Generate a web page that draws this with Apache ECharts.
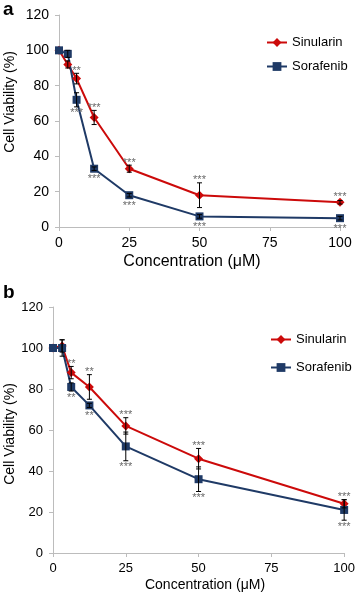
<!DOCTYPE html>
<html>
<head>
<meta charset="utf-8">
<script src="https://cdn.jsdelivr.net/npm/echarts@6/dist/echarts.min.js"></script>
<style>
html,body{margin:0;padding:0;background:#fff;}
#chart{width:358px;height:595px;}
</style>
</head>
<body>
<div id="chart"></div>
<script>
// ---- Data ----
const conc = [0, 3.125, 6.25, 12.5, 25, 50, 100];
const xTicks = [0, 25, 50, 75, 100];
const yTicks = [0, 20, 40, 60, 80, 100, 120];

// Panel a
const aSin = [100, 92, 84, 62, 33, 18, 14];
const aSinErr = [0, 2, 3, 4, 2, 7, 1];
const aSinSig = ['', '', '**', '***', '***', '***', '***'];
const aSor = [100, 98, 72, 33, 18, 6, 5];
const aSorErr = [0, 2, 4, 1, 1, 1, 1];
const aSorSig = ['', '', '***', '***', '***', '***', '***'];

// Panel b
const bSin = [100, 101, 88, 81, 62, 46, 24];
const bSinErr = [0, 3, 3, 6, 4, 5, 2];
const bSinSig = ['', '', '**', '**', '***', '***', '***'];
const bSor = [100, 100, 81, 72, 52, 36, 21];
const bSorErr = [0, 4, 2, 1, 7, 6, 5];
const bSorSig = ['', '', '**', '**', '***', '***', '***'];

const names = ['Sinularin', 'Sorafenib'];
const RED = '#cc0a0a';
const BLUE = '#1f3a66';
const FONT = 'Liberation Sans';

const chart = echarts.init(document.getElementById('chart'), null, {renderer: 'canvas'});

function lineSeries(name, vals, idx, color, symbol, size) {
  return {
    name: name, type: 'line', xAxisIndex: idx, yAxisIndex: idx,
    data: conc.map((x, i) => [x, vals[i]]),
    symbol: symbol, symbolSize: size, showSymbol: true,
    color: color,
    lineStyle: {color: color, width: 2},
    itemStyle: {color: color},
    z: 3, animation: false
  };
}

function errSeries(vals, errs, idx) {
  const d = [];
  conc.forEach((x, i) => { if (errs[i] > 0) d.push([x, vals[i] - errs[i], vals[i] + errs[i]]); });
  return {
    type: 'custom', xAxisIndex: idx, yAxisIndex: idx, silent: true, z: 4, animation: false,
    data: d,
    renderItem: function (params, api) {
      const x = api.value(0);
      const p1 = api.coord([x, api.value(2)]);
      const p2 = api.coord([x, api.value(1)]);
      const w = 2.5;
      const st = {stroke: '#000', lineWidth: 1};
      return {type: 'group', children: [
        {type: 'line', shape: {x1: p1[0], y1: p1[1], x2: p2[0], y2: p2[1]}, style: st},
        {type: 'line', shape: {x1: p1[0] - w, y1: p1[1], x2: p1[0] + w, y2: p1[1]}, style: st},
        {type: 'line', shape: {x1: p2[0] - w, y1: p2[1], x2: p2[0] + w, y2: p2[1]}, style: st}
      ]};
    }
  };
}

function sigSeries(vals, errs, sig, idx, above) {
  const d = [];
  conc.forEach((x, i) => { if (sig[i]) d.push([x, vals[i], errs[i], i]); });
  return {
    type: 'custom', xAxisIndex: idx, yAxisIndex: idx, silent: true, z: 5, animation: false,
    data: d,
    renderItem: function (params, api) {
      const x = api.value(0), v = api.value(1), e = api.value(2), i = api.value(3);
      const pc = api.coord([x, v]);
      let y;
      if (above) {
        const pt = api.coord([x, v + e]);
        y = Math.min(pt[1], pc[1] - 3) + 3;
      } else {
        const pb = api.coord([x, v - e]);
        y = Math.max(pb[1], pc[1] + 4) + 1;
      }
      return {type: 'text', x: pc[0], y: y, style: {
        text: sig[i], fill: '#6a6a6a', font: '11px "' + FONT + '"',
        align: 'center', verticalAlign: above ? 'bottom' : 'top'
      }};
    }
  };
}

function xAx(idx, fs, margin) {
  return {
    type: 'value', gridIndex: idx, min: xTicks[0], max: xTicks[xTicks.length - 1],
    interval: xTicks[1] - xTicks[0],
    axisLine: {show: true, lineStyle: {color: '#bcbcbc', width: 1}},
    axisTick: {show: true, length: 4, lineStyle: {color: '#bcbcbc'}},
    splitLine: {show: false},
    axisLabel: {color: '#000', fontSize: fs, fontFamily: FONT, margin: margin}
  };
}
function yAx(idx, fs, margin) {
  return {
    type: 'value', gridIndex: idx, min: yTicks[0], max: yTicks[yTicks.length - 1],
    interval: yTicks[1] - yTicks[0],
    axisLine: {show: true, lineStyle: {color: '#bcbcbc', width: 1}},
    axisTick: {show: true, length: 4, lineStyle: {color: '#bcbcbc'}},
    splitLine: {show: false},
    axisLabel: {color: '#000', fontSize: fs, fontFamily: FONT, margin: margin}
  };
}

const option = {
  backgroundColor: '#fff',
  animation: false,
  textStyle: {fontFamily: FONT},
  grid: [
    {left: 59, top: 15, width: 281, height: 212},
    {left: 53, top: 307, width: 293, height: 246}
  ],
  xAxis: [xAx(0, 14, 9), xAx(1, 13, 9)],
  yAxis: [yAx(0, 14, 10), yAx(1, 13, 10)],
  legend: [
    {data: names, orient: 'vertical', left: 261, top: 31, itemWidth: 20, itemHeight: 11, itemGap: 11,
     textStyle: {fontSize: 13, color: '#000', fontFamily: FONT}},
    {data: names, orient: 'vertical', left: 265, top: 328, itemWidth: 20, itemHeight: 11, itemGap: 15,
     textStyle: {fontSize: 13, color: '#000', fontFamily: FONT}}
  ],
  graphic: [
    {type: 'text', left: 3, top: 0, style: {text: 'a', font: 'bold 19px "' + FONT + '"', fill: '#000'}},
    {type: 'text', left: 3, top: 283, style: {text: 'b', font: 'bold 19px "' + FONT + '"', fill: '#000'}},
    {type: 'text', x: 10, y: 102, rotation: Math.PI / 2,
     style: {text: 'Cell Viability (%)', font: '14px "' + FONT + '"', fill: '#000', align: 'center', verticalAlign: 'middle'}},
    {type: 'text', x: 10, y: 434, rotation: Math.PI / 2,
     style: {text: 'Cell Viability (%)', font: '14px "' + FONT + '"', fill: '#000', align: 'center', verticalAlign: 'middle'}},
    {type: 'text', x: 192, y: 262,
     style: {text: 'Concentration (\u03bcM)', font: '16px "' + FONT + '"', fill: '#000', align: 'center', verticalAlign: 'middle'}},
    {type: 'text', x: 205, y: 585,
     style: {text: 'Concentration (\u03bcM)', font: '14px "' + FONT + '"', fill: '#000', align: 'center', verticalAlign: 'middle'}}
  ],
  series: [
    lineSeries('Sinularin', aSin, 0, RED, 'diamond', 9),
    lineSeries('Sorafenib', aSor, 0, BLUE, 'rect', 8),
    errSeries(aSin, aSinErr, 0),
    errSeries(aSor, aSorErr, 0),
    sigSeries(aSin, aSinErr, aSinSig, 0, true),
    sigSeries(aSor, aSorErr, aSorSig, 0, false),
    lineSeries('Sinularin', bSin, 1, RED, 'diamond', 9),
    lineSeries('Sorafenib', bSor, 1, BLUE, 'rect', 8),
    errSeries(bSin, bSinErr, 1),
    errSeries(bSor, bSorErr, 1),
    sigSeries(bSin, bSinErr, bSinSig, 1, true),
    sigSeries(bSor, bSorErr, bSorSig, 1, false)
  ]
};
chart.setOption(option);
</script>
</body>
</html>
